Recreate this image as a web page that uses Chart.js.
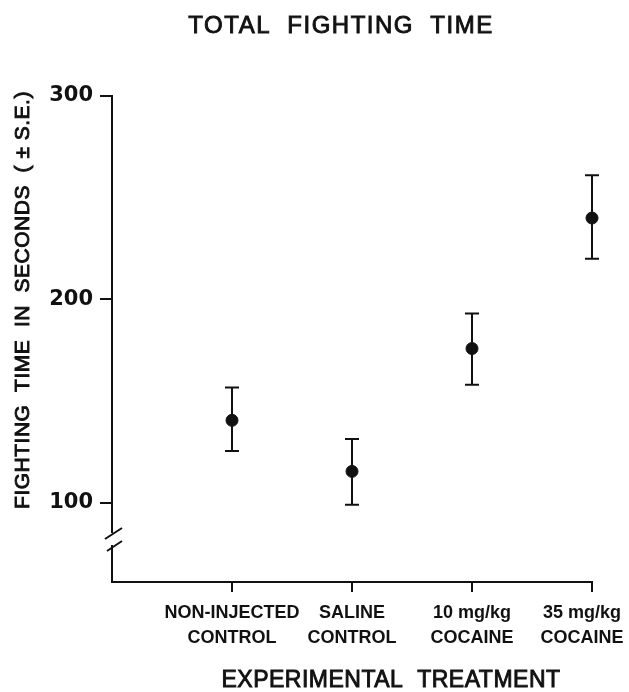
<!DOCTYPE html>
<html lang="en">
<head>
    <meta charset="UTF-8">
    <title>Total Fighting Time</title>
    <style>
        html, body { margin: 0; padding: 0; background: #fff; }
        #wrap { width: 629px; height: 692px; }
    </style>
</head>
<body>
<div id="wrap">
    <canvas id="myChart" width="629" height="692"></canvas>
</div>
<script src="https://cdn.jsdelivr.net/npm/chart.js"></script>
<script>
    // values
    const treatments = [
        ['NON-INJECTED', 'CONTROL'],
        ['SALINE', 'CONTROL'],
        ['10 mg/kg', 'COCAINE'],
        ['35 mg/kg', 'COCAINE']
    ];
    const meanTime = [140.5, 115.4, 175.8, 240];
    const seLower = [125.4, 99, 158, 220];
    const seUpper = [156.7, 131.3, 193, 261];
    const yTicks = [100, 200, 300];

    const ink = '#111';

    const points = meanTime.map((v, i) => ({ x: i + 1, y: v }));

    // text drawn a bit heavier, like the old lettering
    function heavyText(c, str, x, y) {
        c.fillText(str, x, y);
        c.strokeText(str, x, y);
    }

    // error bars + axis break + free-standing titles
    const extras = {
        id: 'extras',
        afterDatasetsDraw(chart) {
            const { ctx, scales: { x, y } } = chart;
            ctx.save();
            ctx.strokeStyle = ink;
            ctx.lineWidth = 2;
            for (let i = 0; i < meanTime.length; i++) {
                const px = x.getPixelForValue(i + 1);
                const top = y.getPixelForValue(seUpper[i]);
                const bot = y.getPixelForValue(seLower[i]);
                ctx.beginPath();
                ctx.moveTo(px, top); ctx.lineTo(px, bot);
                ctx.moveTo(px - 7, top); ctx.lineTo(px + 7, top);
                ctx.moveTo(px - 7, bot); ctx.lineTo(px + 7, bot);
                ctx.stroke();
            }
            ctx.restore();
        },
        afterDraw(chart) {
            const { ctx, chartArea } = chart;
            const ax = chartArea.left;
            ctx.save();
            // break in the y axis
            ctx.fillStyle = '#fff';
            ctx.fillRect(ax - 4, 533, 8, 12);
            ctx.strokeStyle = ink;
            ctx.lineWidth = 2;
            ctx.beginPath();
            ctx.moveTo(ax - 7, 539); ctx.lineTo(ax + 10, 528);
            ctx.moveTo(ax - 5, 551); ctx.lineTo(ax + 10, 541);
            ctx.stroke();

            ctx.fillStyle = ink;
            ctx.lineWidth = 0.9;
            ctx.textAlign = 'center';
            ctx.textBaseline = 'middle';
            ctx.font = '24px "Liberation Sans", Arial, sans-serif';
            ctx.letterSpacing = '1.5px';
            heavyText(ctx, 'TOTAL  FIGHTING  TIME', 341, 26);

            ctx.font = '23px "Liberation Sans", Arial, sans-serif';
            ctx.letterSpacing = '0.5px';
            heavyText(ctx, 'EXPERIMENTAL  TREATMENT', 391, 681);

            ctx.translate(23, 300);
            ctx.rotate(-Math.PI / 2);
            ctx.font = '21px "Liberation Sans", Arial, sans-serif';
            ctx.letterSpacing = '0.5px';
            heavyText(ctx, 'FIGHTING  TIME  IN  SECONDS  ( \u00b1 S.E.)', 0, 0);
            ctx.restore();
        }
    };

    const ctx = document.getElementById('myChart');

    new Chart(ctx, {
        type: 'scatter',
        data: {
            datasets: [{
                data: points,
                pointRadius: 6,
                pointHoverRadius: 6,
                backgroundColor: ink,
                borderColor: ink,
                showLine: false,
                clip: false
            }]
        },
        options: {
            responsive: false,
            animation: false,
            layout: { padding: { top: 96, right: 37, left: 0, bottom: 0 } },
            plugins: {
                legend: { display: false },
                tooltip: { enabled: false },
                title: { display: false }
            },
            scales: {
                x: {
                    type: 'linear',
                    min: 0,
                    max: 4,
                    afterBuildTicks: s => { s.ticks = treatments.map((t, i) => ({ value: i + 1 })); },
                    afterFit: s => {
                        s.height = 110;
                        s.paddingLeft = 0; s.paddingRight = 0;
                    },
                    border: { display: true, color: ink, width: 2 },
                    grid: { drawOnChartArea: false, color: ink, lineWidth: 2, tickLength: 10 },
                    ticks: {
                        color: ink,
                        padding: 8,
                        maxRotation: 0,
                        autoSkip: false,
                        font: { family: '"Liberation Sans", Arial, sans-serif', size: 18, weight: 'bold', lineHeight: 1.4 },
                        callback: v => {
                            const lab = treatments[v - 1];
                            if (!lab) return '';
                            // last label sits a little left of its tick, as in the figure
                            return v === treatments.length ? lab.map(s => s + '    ') : lab;
                        }
                    }
                },
                y: {
                    min: 61,
                    max: 300,
                    afterBuildTicks: s => { s.ticks = yTicks.map(v => ({ value: v })); },
                    afterFit: s => {
                        s.width = 112;
                        s.paddingTop = 0; s.paddingBottom = 0;
                    },
                    border: { display: true, color: ink, width: 2 },
                    grid: { drawOnChartArea: false, color: ink, lineWidth: 2, tickLength: 12 },
                    ticks: {
                        color: ink,
                        padding: 7,
                        font: { family: '"DejaVu Sans", sans-serif', size: 21, weight: 'bold' }
                    }
                }
            }
        },
        plugins: [extras]
    });
</script>
</body>
</html>
